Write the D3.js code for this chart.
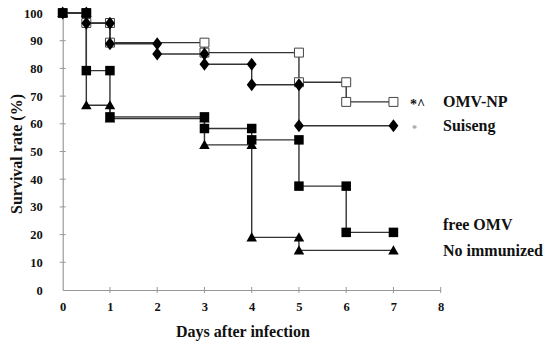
<!DOCTYPE html>
<html>
<head>
<meta charset="utf-8">
<script src="https://cdn.jsdelivr.net/npm/d3@7"></script>
<style>
  body { margin: 0; background: #fff; }
  text { font-family: "Liberation Serif", "DejaVu Serif", serif; font-weight: bold; fill: #111; }
</style>
</head>
<body>
<div id="app"></div>
<script>
const WIDTH = 550;
const HEIGHT = 347;

// Kaplan-Meier step points (day, survival %)
const omvNpDays = [0, 0.5, 0.5, 1, 1, 3, 3, 5, 5, 6, 6, 7];
const omvNpRate = [100, 100, 96.4, 96.4, 89.3, 89.3, 85.7, 85.7, 75, 75, 67.9, 67.9];

const suisengDays = [0, 0.5, 0.5, 1, 1, 2, 2, 3, 3, 4, 4, 5, 5, 7];
const suisengRate = [100, 100, 96.3, 96.3, 88.9, 88.9, 85.2, 85.2, 81.5, 81.5, 74.1, 74.1, 59.3, 59.3];

const freeOmvDays = [0, 0.5, 0.5, 1, 1, 3, 3, 4, 4, 5, 5, 6, 6, 7];
const freeOmvRate = [100, 100, 79.2, 79.2, 62.5, 62.5, 58.3, 58.3, 54.2, 54.2, 37.5, 37.5, 20.8, 20.8];

const noImmDays = [0, 0.5, 0.5, 1, 1, 3, 3, 4, 4, 5, 5, 7];
const noImmRate = [100, 100, 66.7, 66.7, 61.9, 61.9, 52.4, 52.4, 19, 19, 14.3, 14.3];

const xTicks = [0, 1, 2, 3, 4, 5, 6, 7, 8];
const yTicks = [0, 10, 20, 30, 40, 50, 60, 70, 80, 90, 100];

// drawing order: open squares below, filled squares on top
const series = [
  { name: 'OMV-NP', days: omvNpDays, rate: omvNpRate, shape: 'open', fill: '#fff' },
  { name: 'Suiseng', days: suisengDays, rate: suisengRate, shape: 'diamond', fill: '#000' },
  { name: 'No immunized', days: noImmDays, rate: noImmRate, shape: 'triangle', fill: '#000' },
  { name: 'free OMV', days: freeOmvDays, rate: freeOmvRate, shape: 'square', fill: '#000' }
];

const svg = d3.select('#app')
  .append('svg')
    .attr('width', WIDTH)
    .attr('height', HEIGHT);

const x = d3.scaleLinear().domain([0, 8]).range([62.7, 440.7]);
const y = d3.scaleLinear().domain([0, 100]).range([290, 13]);

// axes
const xAxis = d3.axisBottom(x).tickValues(xTicks).tickSize(0).tickPadding(12);
const gx = svg.append('g').attr('transform', `translate(0,${y(0)})`).call(xAxis);
const yAxis = d3.axisLeft(y).tickValues(yTicks).tickSize(0).tickPadding(20);
const gy = svg.append('g').attr('transform', `translate(${x(0)},0)`).call(yAxis);

[gx, gy].forEach(g => {
  g.select('.domain').attr('stroke', '#999').attr('stroke-width', 1.2);
  g.selectAll('text').attr('font-size', 12.5).attr('font-family', '"Liberation Serif", serif').attr('font-weight', 'bold').attr('fill', '#111');
});

// crossing tick marks
svg.append('g').selectAll('line')
  .data(xTicks.slice(1))
  .join('line')
    .attr('x1', d => x(d)).attr('x2', d => x(d))
    .attr('y1', y(0) - 3).attr('y2', y(0) + 3)
    .attr('stroke', '#999');
svg.append('g').selectAll('line')
  .data(yTicks.slice(1))
  .join('line')
    .attr('x1', x(0) - 3).attr('x2', x(0) + 3)
    .attr('y1', d => y(d)).attr('y2', d => y(d))
    .attr('stroke', '#999');

// lines
const line = d3.line().x(d => x(d[0])).y(d => y(d[1]));
series.forEach(s => {
  const pts = s.days.map((d, i) => [d, s.rate[i]]);
  svg.append('path')
    .datum(pts)
    .attr('d', line)
    .attr('fill', 'none')
    .attr('stroke', '#333')
    .attr('stroke-width', 1.4);
});

// markers
const symbolFor = {
  triangle: d3.symbol().type(d3.symbolTriangle).size(48),
  square: d3.symbol().type(d3.symbolSquare).size(90),
  diamond: d3.symbol().type(d3.symbolDiamond).size(50),
  open: d3.symbol().type(d3.symbolSquare).size(80)
};
series.forEach(s => {
  const pts = s.days.map((d, i) => [d, s.rate[i]]);
  svg.append('g').selectAll('path')
    .data(pts)
    .join('path')
      .attr('d', symbolFor[s.shape])
      .attr('transform', d => s.shape === 'diamond'
        ? `translate(${x(d[0])},${y(d[1])}) scale(1.3,1)`
        : `translate(${x(d[0])},${y(d[1]) + (s.shape === 'triangle' ? 1 : 0)})`)
      .attr('fill', s.fill)
      .attr('stroke', s.shape === 'open' ? '#444' : 'none')
      .attr('stroke-width', 1);
});

// axis titles
svg.append('text')
  .attr('x', 243)
  .attr('y', 337)
  .attr('text-anchor', 'middle')
  .attr('font-size', 16)
  .text('Days after infection');

svg.append('text')
  .attr('transform', 'translate(22,154) rotate(-90)')
  .attr('text-anchor', 'middle')
  .attr('font-size', 16)
  .text('Survival rate (%)');

// series labels
const labels = [
  { text: 'OMV-NP', at: 67.9 },
  { text: 'Suiseng', at: 59.3 },
  { text: 'free OMV', at: 23.5 },
  { text: 'No immunized', at: 14.3 }
];
svg.append('g').selectAll('text')
  .data(labels)
  .join('text')
    .attr('x', 443)
    .attr('y', d => y(d.at) + 5.5)
    .attr('font-size', 16)
    .text(d => d.text);

svg.append('text')
  .attr('x', 410).attr('y', y(67.9) + 7)
  .attr('font-size', 14)
  .text('*^');
svg.append('text')
  .attr('x', 412).attr('y', y(59.3) + 6)
  .attr('font-size', 10)
  .attr('font-weight', 'normal')
  .style('fill', '#999')
  .text('*');
</script>
</body>
</html>
